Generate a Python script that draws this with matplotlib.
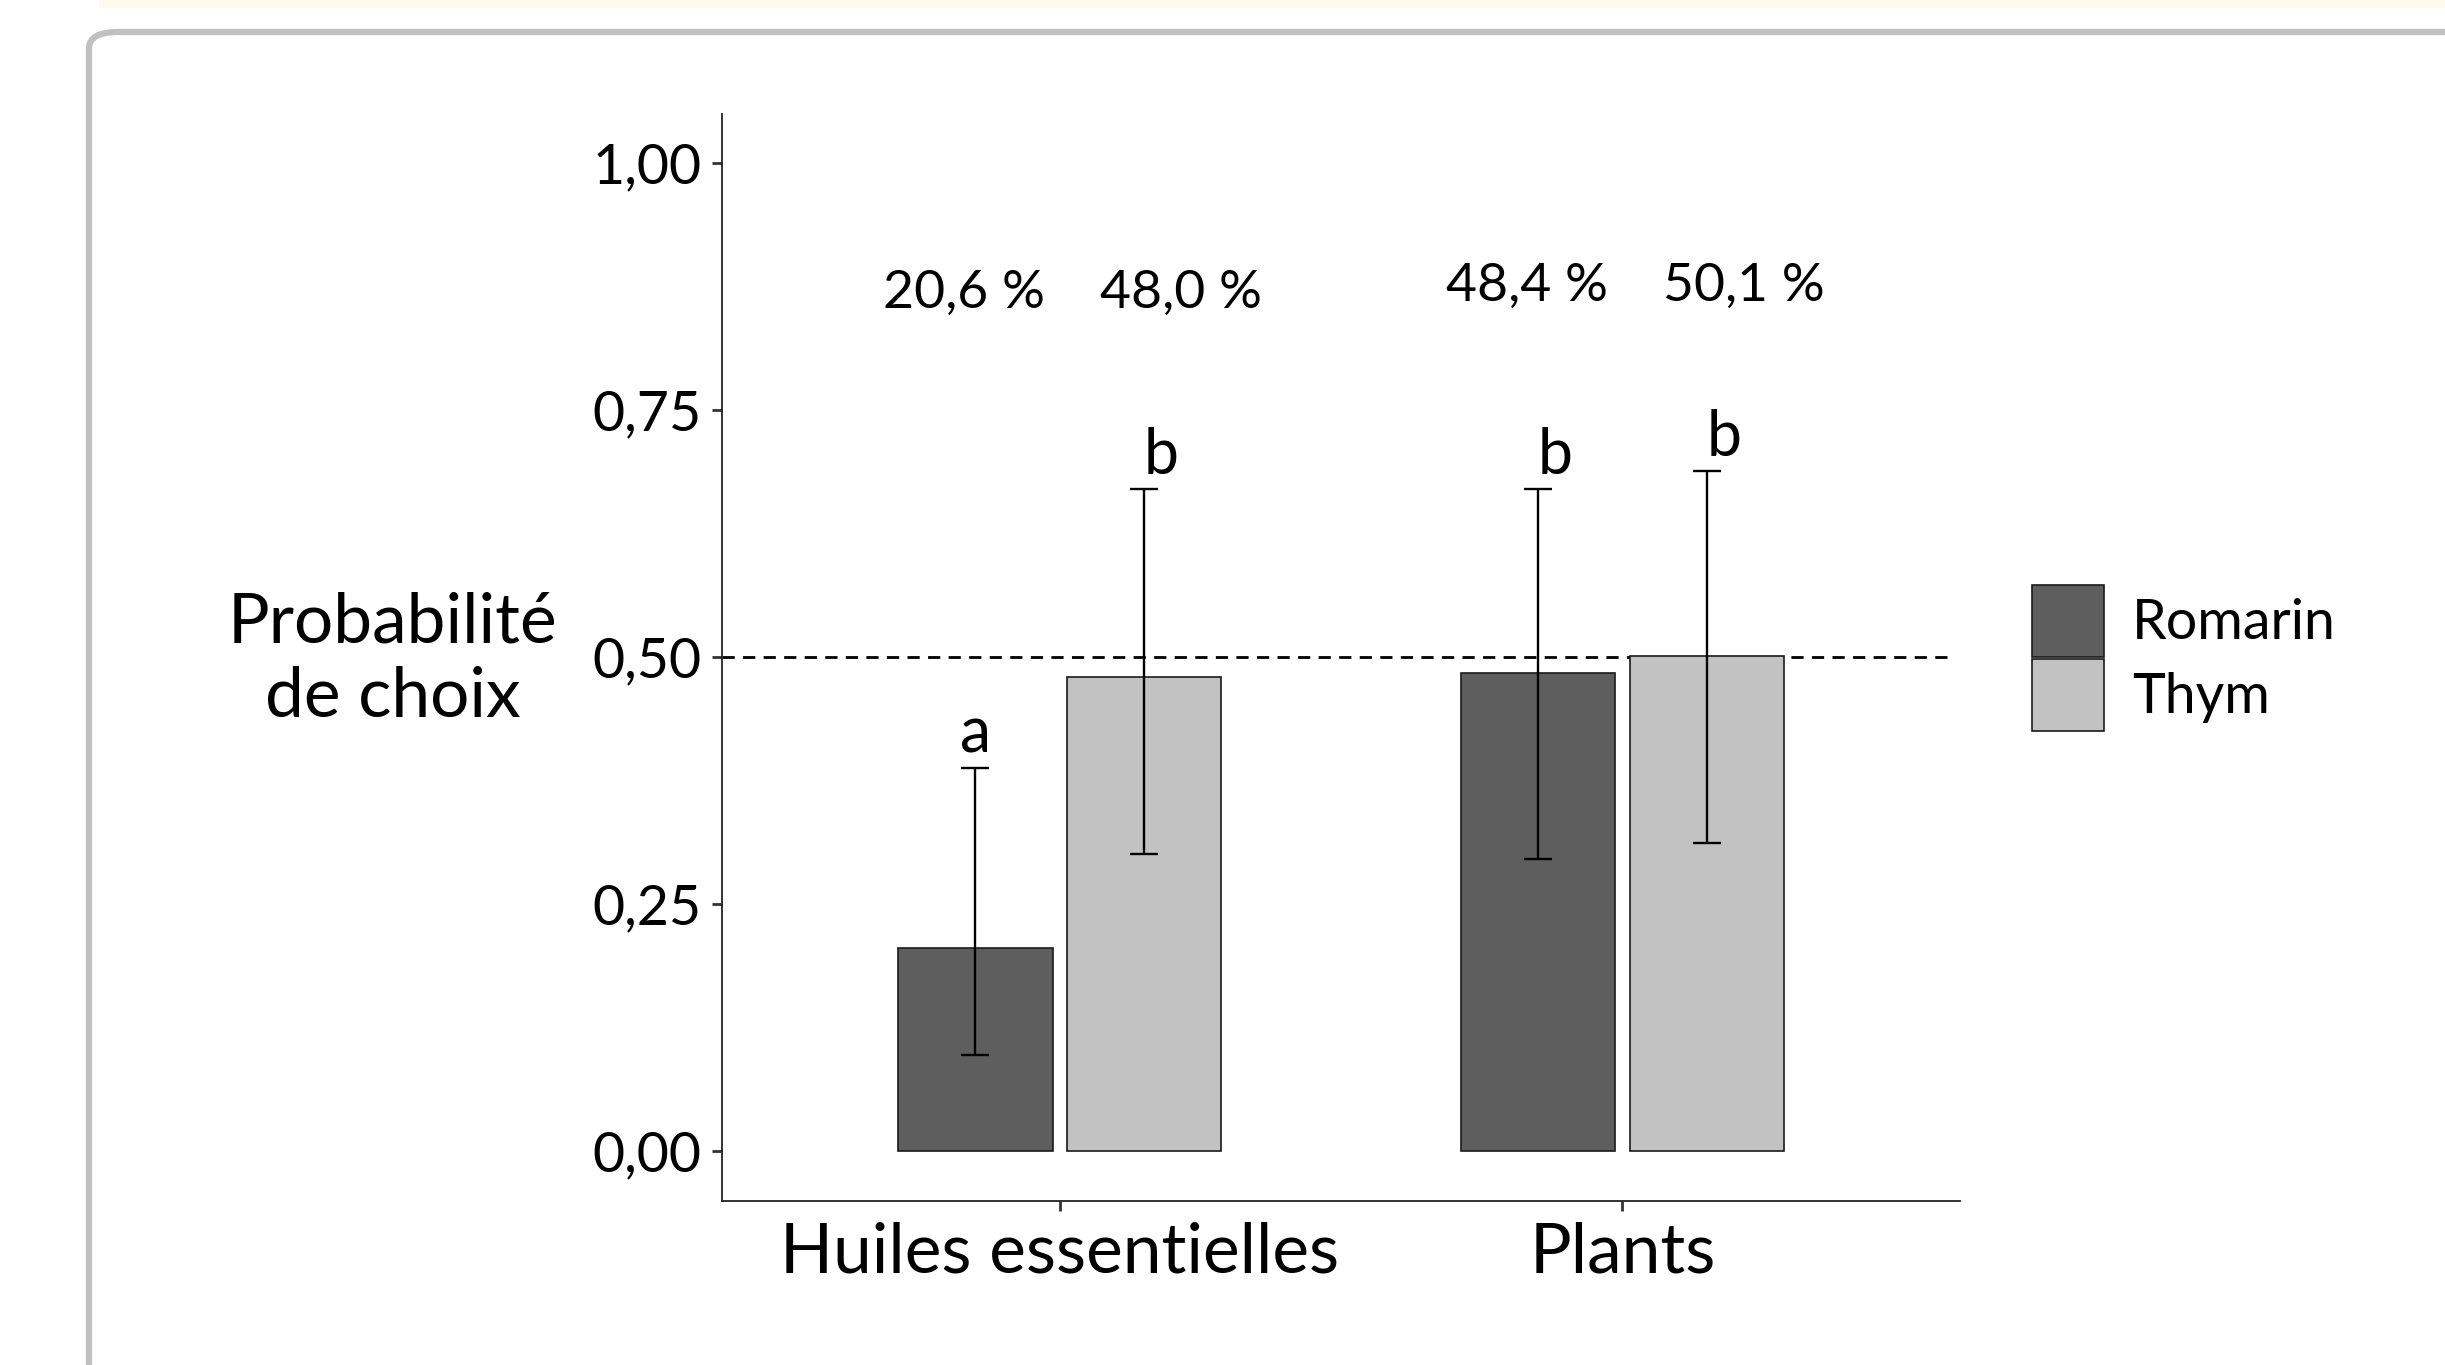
import matplotlib.pyplot as plt
import numpy as np
from matplotlib.patches import FancyBboxPatch, Rectangle, Patch

plt.rcParams['font.family'] = ['Lato', 'DejaVu Sans']

# data
categories = ['Huiles essentielles', 'Plants']
species = ['Romarin', 'Thym']
prob = {'Romarin': [0.206, 0.484], 'Thym': [0.480, 0.501]}
lower = {'Romarin': [0.097, 0.296], 'Thym': [0.301, 0.312]}
upper = {'Romarin': [0.388, 0.670], 'Thym': [0.670, 0.689]}
letters = {'Romarin': ['a', 'b'], 'Thym': ['b', 'b']}
pct_labels = {'Romarin': ['20,6 %', '48,4 %'], 'Thym': ['48,0 %', '50,1 %']}
y_ticks = [0.0, 0.25, 0.5, 0.75, 1.0]
y_ticklabels = ['0,00', '0,25', '0,50', '0,75', '1,00']

colors = {'Romarin': '#5e5e5e', 'Thym': '#c2c2c2'}
offsets = {'Romarin': -0.15, 'Thym': 0.15}
pct_offsets = {'Romarin': -0.17, 'Thym': 0.215}
pct_y = [0.868, 0.875]
letter_shift = {'Romarin': [0.0, 0.03], 'Thym': [0.03, 0.03]}

fig = plt.figure(figsize=(24.45, 13.65), dpi=100)

# page decoration: yellow strip and rounded grey frame
fig.patches.append(Rectangle((99 / 2445, 1 - 8 / 1365), 1, 8 / 1365,
                             transform=fig.transFigure, facecolor='#fffaea',
                             edgecolor='none', zorder=-2))
fig.patches.append(FancyBboxPatch((89 / 2445, -0.2), 1.2, 1 - 32 / 1365 + 0.2,
                                  boxstyle='round,pad=0,rounding_size=0.012',
                                  transform=fig.transFigure, facecolor='white',
                                  edgecolor='#c0c0c0', linewidth=4.5, zorder=-2))

ax = fig.add_axes([0.2953, 0.1204, 0.5064, 0.7962])
ax.set_facecolor('none')

x = np.arange(1, len(categories) + 1)
width = 0.275
handles = []
for sp in species:
    xs = x + offsets[sp]
    ax.bar(xs, prob[sp], width=width, color=colors[sp], edgecolor='#1a1a1a',
           linewidth=1.2, zorder=2)
    lo = np.array(prob[sp]) - np.array(lower[sp])
    hi = np.array(upper[sp]) - np.array(prob[sp])
    ax.errorbar(xs, prob[sp], yerr=[lo, hi], fmt='none', ecolor='black',
                elinewidth=1.7, capsize=10, capthick=1.7, zorder=3)
    for i in range(len(categories)):
        ax.text(xs[i] + letter_shift[sp][i], upper[sp][i] + 0.004, letters[sp][i],
                ha='center', va='bottom', fontsize=45)
        ax.text(x[i] + pct_offsets[sp], pct_y[i], pct_labels[sp][i],
                ha='center', va='center', fontsize=38.5)
    handles.append(Patch(facecolor=colors[sp], edgecolor='#1a1a1a', linewidth=1.2, label=sp))

ax.axhline(0.5, xmin=0, xmax=0.993, color='black', linestyle=(0, (4.4, 3)),
           linewidth=2.0, zorder=1)

ax.set_xlim(0.4, 2.6)
ax.set_ylim(-0.05, 1.05)
ax.set_xticks(x)
ax.set_xticklabels(categories, fontsize=50)
ax.set_yticks(y_ticks)
ax.set_yticklabels(y_ticklabels, fontsize=40)
ax.tick_params(axis='both', length=7, width=2, pad=8, color='#333333')

for side in ['top', 'right']:
    ax.spines[side].set_visible(False)
for side in ['left', 'bottom']:
    ax.spines[side].set_linewidth(1.3)
    ax.spines[side].set_color('#222222')

ax.set_ylabel('Probabilité\nde choix', rotation=0, fontsize=50,
              ha='center', va='center', linespacing=1.22)
ax.yaxis.set_label_coords(-0.266, 0.497)

leg = ax.legend(handles=handles, loc='upper left', bbox_to_anchor=(2032 / 2445, 1 - 585 / 1365),
                bbox_transform=fig.transFigure, frameon=False, fontsize=40,
                handlelength=1.3, handleheight=1.62, labelspacing=0.03,
                handletextpad=0.5, borderpad=0, borderaxespad=0)

fig.savefig('out.png', dpi=100)
